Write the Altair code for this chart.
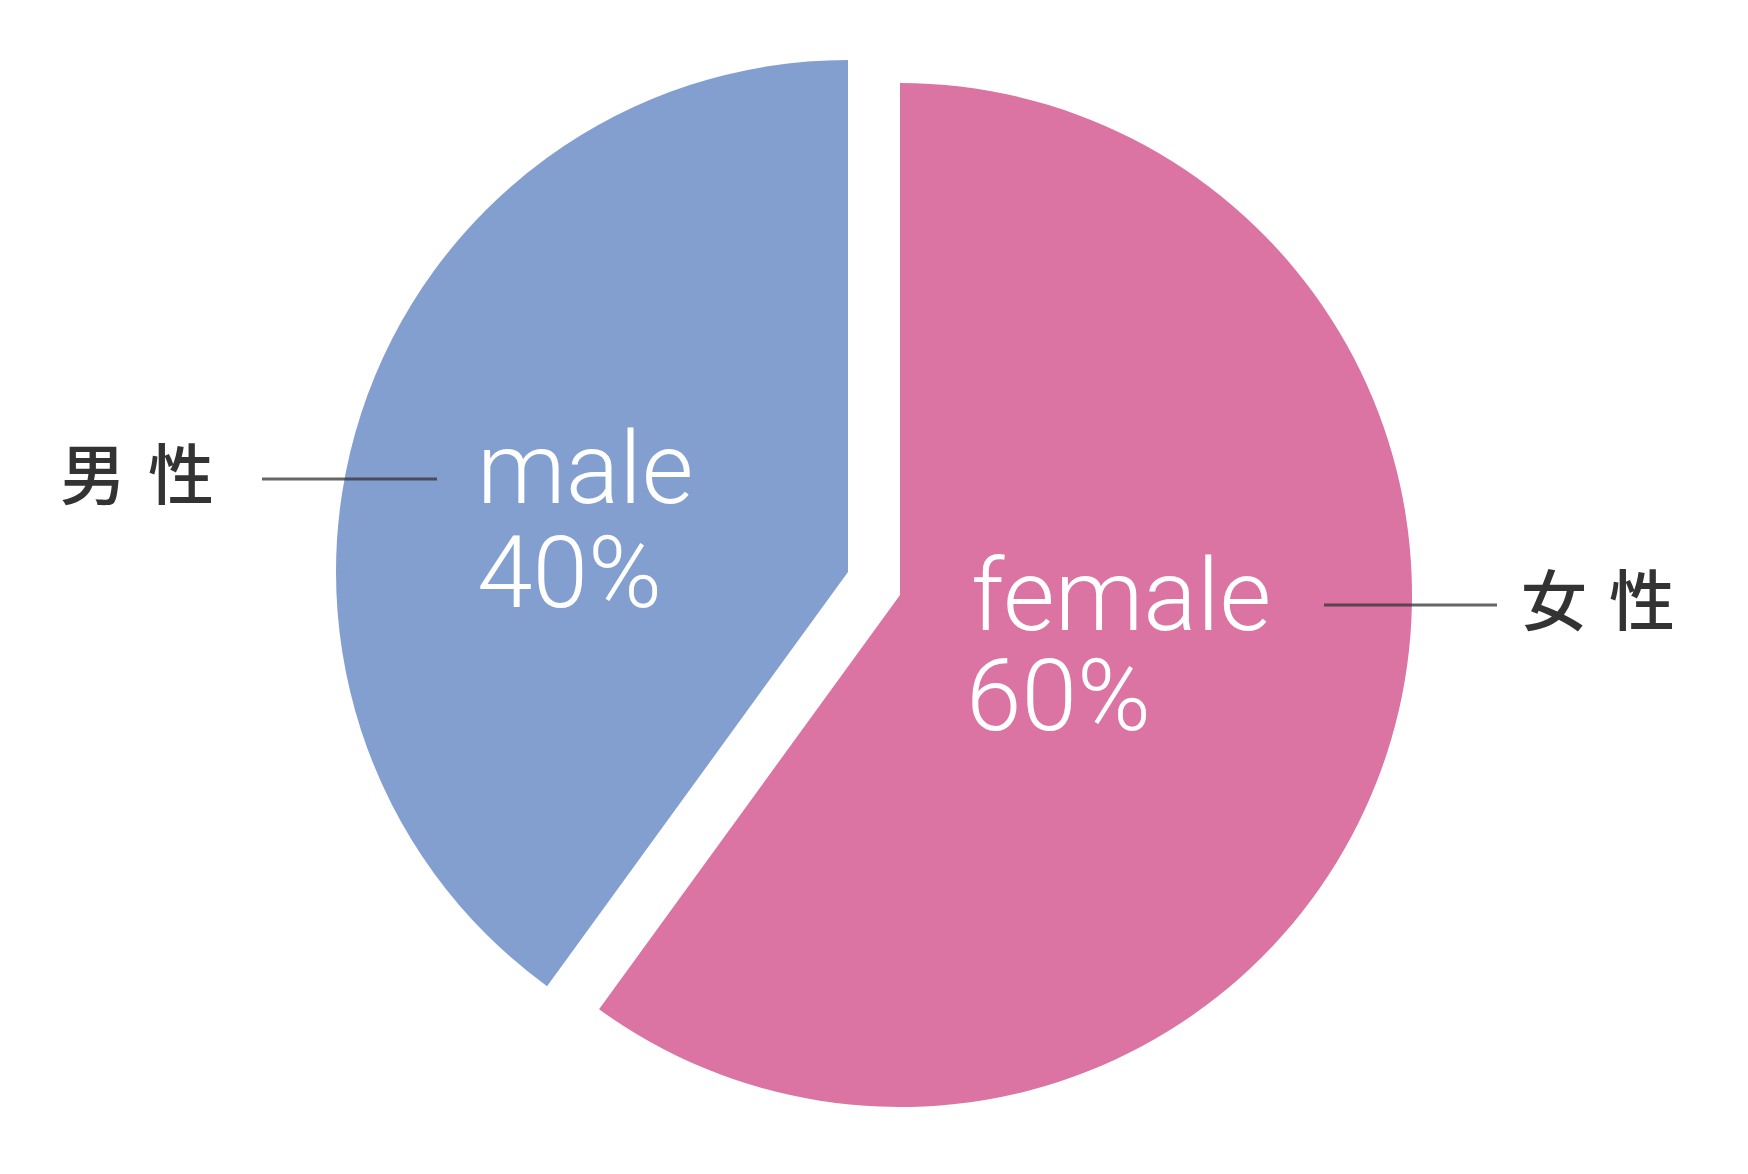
import math
import altair as alt
import pandas as pd

# ---- data ----
genders = ["female", "male"]
shares = [60, 40]
jp_labels = ["女\u2004性", "男\u2004性"]
colors = ["#db74a2", "#839fcf"]

df = pd.DataFrame({"gender": genders, "value": shares, "jp": jp_labels, "order": [0, 1]})

W, H = 1732, 1158
R = 512
# slice centres (male slice pulled out towards upper-left)
CX_F, CY_F = 892, 587
CX_M, CY_M = 840, 564

color_scale = alt.Scale(domain=genders, range=colors)
theta_scale = alt.Scale(domain=[0, 100], range=[0, 2 * math.pi])

base = (
    alt.Chart(df)
    .transform_window(cum="sum(value)", sort=[alt.SortField("order")])
    .transform_calculate(start="datum.cum - datum.value",
                         pct="datum.value + '%'")
)

def slice_layer(g, cx, cy):
    return base.transform_filter(alt.datum.gender == g).mark_arc(radius=R).encode(
        theta=alt.Theta("start:Q", scale=theta_scale),
        theta2="cum:Q",
        color=alt.Color("gender:N", scale=color_scale, legend=None),
        x=alt.value(cx),
        y=alt.value(cy),
    )

def inner_text(g, field, x, y):
    return base.transform_filter(alt.datum.gender == g).mark_text(
        align="left", baseline="alphabetic",
        font="Roboto", fontWeight=300, fontSize=100, color="white",
    ).encode(text=f"{field}:N", x=alt.value(x), y=alt.value(y))

def outer_label(g, x, y):
    return base.transform_filter(alt.datum.gender == g).mark_text(
        align="left", baseline="middle",
        font="Noto Sans CJK JP", fontSize=66, fontWeight=500, color="#333333",
    ).encode(text="jp:N", x=alt.value(x), y=alt.value(y))

def leader(g, x1, x2, y):
    return base.transform_filter(alt.datum.gender == g).mark_rule(
        color="#333333", strokeWidth=3, opacity=0.75,
    ).encode(x=alt.value(x1), x2=alt.value(x2), y=alt.value(y))

chart = alt.layer(
    slice_layer("female", CX_F, CY_F),
    slice_layer("male", CX_M, CY_M),
    inner_text("male", "gender", 469, 495),
    inner_text("male", "pct", 469, 599),
    inner_text("female", "gender", 963, 622),
    inner_text("female", "pct", 958, 722),
    leader("male", 254, 429, 471),
    leader("female", 1316, 1489, 597),
    outer_label("male", 52, 471),
    outer_label("female", 1513, 597),
).properties(
    width=W, height=H, padding=0, autosize="none", background="white"
).configure_view(stroke=None)

chart.save("out.html", embed_options={"renderer": "svg", "actions": False})
